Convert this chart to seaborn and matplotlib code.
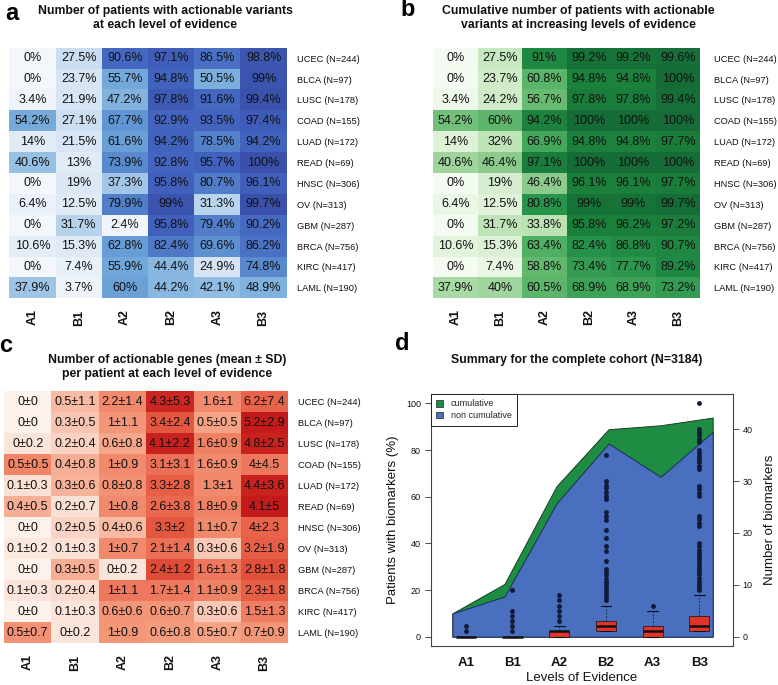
import numpy as np
import pandas as pd
import matplotlib
matplotlib.use("Agg")
import matplotlib.pyplot as plt
import seaborn as sns
from matplotlib.colors import LinearSegmentedColormap
from matplotlib.patches import Patch

# ---------------- data ----------------
levels = ["A1", "B1", "A2", "B2", "A3", "B3"]
cohorts = ["UCEC (N=244)", "BLCA (N=97)", "LUSC (N=178)", "COAD (N=155)",
           "LUAD (N=172)", "READ (N=69)", "HNSC (N=306)", "OV (N=313)",
           "GBM (N=287)", "BRCA (N=756)", "KIRC (N=417)", "LAML (N=190)"]

pct_each = [
    [0, 27.5, 90.6, 97.1, 86.5, 98.8],
    [0, 23.7, 55.7, 94.8, 50.5, 99],
    [3.4, 21.9, 47.2, 97.8, 91.6, 99.4],
    [54.2, 27.1, 67.7, 92.9, 93.5, 97.4],
    [14, 21.5, 61.6, 94.2, 78.5, 94.2],
    [40.6, 13, 73.9, 92.8, 95.7, 100],
    [0, 19, 37.3, 95.8, 80.7, 96.1],
    [6.4, 12.5, 79.9, 99, 31.3, 99.7],
    [0, 31.7, 2.4, 95.8, 79.4, 90.2],
    [10.6, 15.3, 62.8, 82.4, 69.6, 86.2],
    [0, 7.4, 55.9, 44.4, 24.9, 74.8],
    [37.9, 3.7, 60, 44.2, 42.1, 48.9],
]

pct_cum = [
    [0, 27.5, 91, 99.2, 99.2, 99.6],
    [0, 23.7, 60.8, 94.8, 94.8, 100],
    [3.4, 24.2, 56.7, 97.8, 97.8, 99.4],
    [54.2, 60, 94.2, 100, 100, 100],
    [14, 32, 66.9, 94.8, 94.8, 97.7],
    [40.6, 46.4, 97.1, 100, 100, 100],
    [0, 19, 46.4, 96.1, 96.1, 97.7],
    [6.4, 12.5, 80.8, 99, 99, 99.7],
    [0, 31.7, 33.8, 95.8, 96.2, 97.2],
    [10.6, 15.3, 63.4, 82.4, 86.8, 90.7],
    [0, 7.4, 58.8, 73.4, 77.7, 89.2],
    [37.9, 40, 60.5, 68.9, 68.9, 73.2],
]

gene_mean = [
    [0, 0.5, 2.2, 4.3, 1.6, 6.2],
    [0, 0.3, 1, 3.4, 0.5, 5.2],
    [0, 0.2, 0.6, 4.1, 1.6, 4.8],
    [0.5, 0.4, 1, 3.1, 1.6, 4],
    [0.1, 0.3, 0.8, 3.3, 1.3, 4.4],
    [0.4, 0.2, 1, 2.6, 1.8, 4.1],
    [0, 0.2, 0.4, 3.3, 1.1, 4],
    [0.1, 0.1, 1, 2.1, 0.3, 3.2],
    [0, 0.3, 0, 2.4, 1.6, 2.8],
    [0.1, 0.2, 1, 1.7, 1.1, 2.3],
    [0, 0.1, 0.6, 0.6, 0.3, 1.5],
    [0.5, 0, 1, 0.6, 0.5, 0.7],
]
gene_sd = [
    [0, 1.1, 1.4, 5.3, 1, 7.4],
    [0, 0.5, 1.1, 2.4, 0.5, 2.9],
    [0.2, 0.4, 0.8, 2.2, 0.9, 2.5],
    [0.5, 0.8, 0.9, 3.1, 0.9, 4.5],
    [0.3, 0.6, 0.8, 2.8, 1, 3.6],
    [0.5, 0.7, 0.8, 3.8, 0.9, 5],
    [0, 0.5, 0.6, 2, 0.7, 2.3],
    [0.2, 0.3, 0.7, 1.4, 0.6, 1.9],
    [0, 0.5, 0.2, 1.2, 1.3, 1.8],
    [0.3, 0.4, 1.1, 1.4, 0.9, 1.8],
    [0, 0.3, 0.6, 0.7, 0.6, 1.3],
    [0.7, 0.2, 0.9, 0.8, 0.7, 0.9],
]
# colour intensity of panel c cells (0 = palest, 1 = darkest)
gene_shade = [
    [0.02, 0.35, 0.55, 0.95, 0.55, 0.70],
    [0.02, 0.30, 0.50, 0.75, 0.45, 1.00],
    [0.12, 0.22, 0.43, 0.97, 0.58, 0.97],
    [0.57, 0.40, 0.55, 0.65, 0.55, 0.62],
    [0.15, 0.38, 0.52, 0.72, 0.55, 0.97],
    [0.40, 0.15, 0.55, 0.68, 0.58, 1.00],
    [0.02, 0.22, 0.35, 0.75, 0.55, 0.70],
    [0.10, 0.15, 0.55, 0.65, 0.28, 0.72],
    [0.02, 0.40, 0.12, 0.80, 0.62, 0.78],
    [0.12, 0.18, 0.62, 0.62, 0.58, 0.72],
    [0.02, 0.12, 0.50, 0.50, 0.28, 0.60],
    [0.52, 0.12, 0.50, 0.48, 0.45, 0.50],
]

# panel d: complete cohort
cum_all = [10, 22.6, 64.5, 88.9, 90.6, 93.9]
noncum_all = [10, 17.2, 57.1, 82.8, 68.5, 87.8]
box_q1 = [0, 0, 0, 1, 0, 1]
box_med = [0, 0, 1, 2, 1, 2]
box_q3 = [0, 0, 1, 3, 2, 4]
box_whi = [0, 0, 2, 6, 5, 8]
box_fliers = [
    [1, 2],
    [1, 2, 3, 4, 5, 9],
    [3, 4, 5, 6, 7, 8],
    [7, 7.6, 8.2, 8.8, 9.4, 10, 10.6, 11.2, 11.8, 12.4, 13, 14.5, 16.5, 17.5,
     19, 20.5, 22.5, 23.2, 24, 26.5, 27.2, 27.9, 28.6, 29.3, 30, 35],
    [6],
    [9, 9.6, 10.2, 10.8, 11.4, 12, 12.6, 13.2, 13.8, 14.4, 15, 15.6, 16.2, 16.8,
     17.4, 18, 21.4, 22, 22.6, 23.2, 27.2, 27.8, 28.4, 29, 32.4, 33, 33.6, 34.2,
     34.8, 35.4, 36, 37.6, 38.2, 38.8, 39.4, 40, 45],
]

# ---------------- style ----------------
sns.set_theme(style="white")
plt.rcParams["font.family"] = ["Liberation Sans", "DejaVu Sans"]

W, H = 778, 685
fig = plt.figure(figsize=(W / 100, H / 100), dpi=100)


def axrect(x0, y0, x1, y1):
    return fig.add_axes([x0 / W, 1 - y1 / H, (x1 - x0) / W, (y1 - y0) / H])


cmap_a = LinearSegmentedColormap.from_list("blues_a", [
    (0.00, "#f3f7fc"), (0.10, "#e4edf7"), (0.25, "#d5e3f3"), (0.35, "#a9cbe9"),
    (0.45, "#86b6e0"), (0.55, "#74a9db"), (0.65, "#6399d4"), (0.75, "#5888cd"),
    (0.85, "#4a73c5"), (0.92, "#4467c0"), (0.97, "#3f5fba"), (1.00, "#3a50aa")])
cmap_b = LinearSegmentedColormap.from_list("greens_b", [
    (0.00, "#f4fbf1"), (0.10, "#e4f4de"), (0.25, "#cdeac5"), (0.33, "#bde3b5"),
    (0.42, "#9ad198"), (0.50, "#80c583"), (0.57, "#69bb72"), (0.63, "#52b063"),
    (0.70, "#3aa055"), (0.82, "#26914a"), (0.92, "#1d8640"), (0.98, "#1a7c3a"),
    (1.00, "#156c37")])
cmap_c = LinearSegmentedColormap.from_list("reds_c", [
    (0.00, "#fdf3ee"), (0.15, "#fbe0d4"), (0.30, "#f9c5b2"), (0.45, "#f5a285"),
    (0.55, "#f18a6c"), (0.70, "#e9634b"), (0.85, "#d9402e"), (1.00, "#c41a1b")])

annot_kw = {"color": "#111111", "fontsize": 9}


def heat(rect, values, labels, cmap, vmin, vmax, pad_px):
    ax = axrect(*rect)
    df = pd.DataFrame(values, index=cohorts, columns=levels)
    sns.heatmap(df, ax=ax, cmap=cmap, vmin=vmin, vmax=vmax, annot=np.array(labels),
                fmt="", cbar=False, annot_kws=annot_kw, linewidths=0)
    ax.yaxis.tick_right()
    ax.set_yticklabels(cohorts, rotation=0, fontsize=6.7, color="#111111")
    ax.set_xticklabels(levels, rotation=90, fontsize=9, fontweight="bold", color="#111111")
    ax.tick_params(axis="y", length=0, pad=pad_px * 0.72, right=False, left=False)
    ax.tick_params(axis="x", length=0, pad=8)
    ax.set_xlabel("")
    ax.set_ylabel("")
    return ax


lab_a = [[f"{v:g}%" for v in row] for row in pct_each]
lab_b = [[f"{v:g}%" for v in row] for row in pct_cum]
lab_c = [[f"{m:g}\u00b1{s:g}" for m, s in zip(mr, sr)] for mr, sr in zip(gene_mean, gene_sd)]

heat((9.3, 47.7, 286.7, 298.3), pct_each, lab_a, cmap_a, 0, 100, 10)
heat((433.3, 47.7, 700, 298.3), pct_cum, lab_b, cmap_b, 0, 100, 14)
heat((4, 391, 288.3, 643.3), gene_shade, lab_c, cmap_c, 0, 1, 10)

# titles and panel letters
tkw = dict(ha="center", va="center", fontweight="bold", fontsize=8.8, color="#111111")
fig.text(165 / W, 1 - 11 / H, "Number of patients with actionable variants", **tkw)
fig.text(165 / W, 1 - 25 / H, "at each level of evidence", **tkw)
fig.text(578 / W, 1 - 11 / H, "Cumulative number of patients with actionable", **tkw)
fig.text(578 / W, 1 - 25 / H, "variants at increasing levels of evidence", **tkw)
fig.text(166.7 / W, 1 - 360 / H, "Number of actionable genes (mean \u00b1 SD)", **tkw)
fig.text(166.7 / W, 1 - 374 / H, "per patient at each level of evidence", **tkw)
fig.text(577 / W, 1 - 360 / H, "Summary for the complete cohort (N=3184)", **tkw)
lkw = dict(ha="center", va="center", fontweight="bold", fontsize=17, color="black")
fig.text(12 / W, 1 - 13 / H, "a", **lkw)
fig.text(408 / W, 1 - 10 / H, "b", **lkw)
fig.text(6 / W, 1 - 346 / H, "c", **lkw)
fig.text(402 / W, 1 - 344 / H, "d", **lkw)

# ---------------- panel d ----------------
green = "#1f8c43"
blue = "#4a6fbf"
axd = axrect(430.7, 394, 733, 646)
xs = np.linspace(0.715, 6.285, len(levels))
axd.fill_between(xs, cum_all, 0, facecolor=green, edgecolor="#173d22", lw=0.7, zorder=1)
axd.fill_between(xs, noncum_all, 0, facecolor=blue, edgecolor="#1d2b55", lw=0.7, zorder=2)
axd.set_xlim(0.25, 6.72)
axd.set_ylim(-4, 104)
axd.set_yticks([0, 20, 40, 60, 80, 100])
axd.set_yticklabels(["0", "20", "40", "60", "80", "100"], fontsize=6.5, color="#111111")
axd.tick_params(axis="y", left=True, length=4, width=0.6, direction="out", pad=3, color="#333333")
axd.set_ylabel("Patients with biomarkers (%)", fontsize=9.5, color="#111111", labelpad=5)
for sp in axd.spines.values():
    sp.set_color("#444444")
    sp.set_linewidth(0.8)

ax2 = axd.twinx()
ax2.set_ylim(-1.8, 46.8)
stats = []
for i in range(len(levels)):
    stats.append(dict(q1=box_q1[i], med=box_med[i], q3=box_q3[i],
                      whislo=box_q1[i], whishi=box_whi[i], fliers=box_fliers[i]))
ax2.bxp(stats, positions=range(1, 7), widths=0.43, patch_artist=True,
        showfliers=True, manage_ticks=False,
        boxprops=dict(facecolor="#e0342a", edgecolor="#2a1a1a", linewidth=0.6),
        medianprops=dict(color="#111111", linewidth=1.8),
        whiskerprops=dict(color="#1d2b55", linewidth=0.7, linestyle=(0, (2, 1.5))),
        capprops=dict(color="#111111", linewidth=0.8),
        capwidths=0.23,
        flierprops=dict(marker="o", markersize=2.5, markerfacecolor="#111a3a",
                        markeredgecolor="#111a3a", linestyle="none"))
ax2.set_xlim(0.25, 6.72)
ax2.set_yticks([0, 10, 20, 30, 40])
ax2.set_yticklabels(["0", "10", "20", "30", "40"], fontsize=6.5, color="#111111")
ax2.tick_params(axis="y", right=True, length=4, width=0.6, direction="out", pad=3, color="#333333")
ax2.set_ylabel("Number of biomarkers", fontsize=9.5, color="#111111", labelpad=8)
for sp in ax2.spines.values():
    sp.set_visible(False)

axd.set_xticks(range(1, 7))
axd.set_xticklabels(levels, fontsize=9.5, fontweight="bold", color="#111111")
axd.tick_params(axis="x", bottom=False, pad=2)
axd.set_xlabel("Levels of Evidence", fontsize=9.5, color="#111111", labelpad=2)

leg = axd.legend(handles=[Patch(facecolor=green, edgecolor="#222222", lw=0.5, label="cumulative"),
                          Patch(facecolor=blue, edgecolor="#222222", lw=0.5, label="non cumulative")],
                 loc="upper left", bbox_to_anchor=(0, 1), borderaxespad=0, fontsize=6.5,
                 fancybox=False, framealpha=1, edgecolor="#222222", handlelength=0.8,
                 handleheight=0.8, handletextpad=0.8, labelspacing=0.3, borderpad=0.6)
leg.get_frame().set_linewidth(0.7)
leg.set_zorder(10)

fig.savefig("out.png", dpi=100)
